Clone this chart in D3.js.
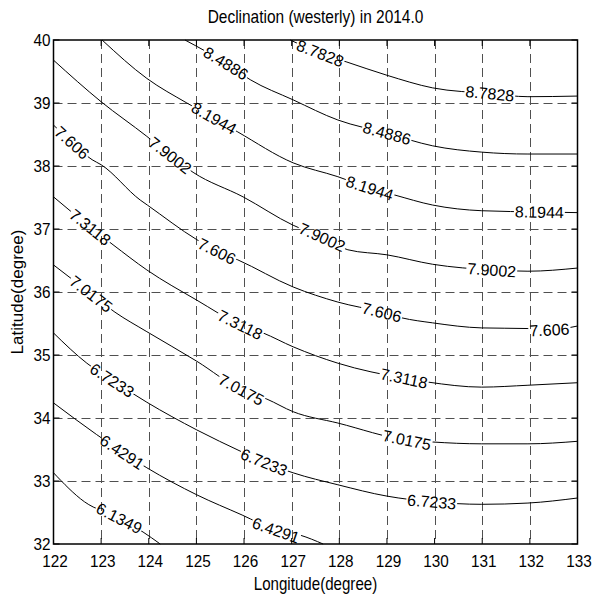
<!DOCTYPE html>
<html>
<head>
<meta charset="utf-8">
<script src="https://cdn.jsdelivr.net/npm/d3@7"></script>
<style>
  html, body { margin: 0; padding: 0; background: #fff; }
  text { font-family: "Liberation Sans", Arial, sans-serif; fill: #000; }
</style>
</head>
<body>
<div class="graph"></div>
<script>
// axis ticks
const lonTicks = [122, 123, 124, 125, 126, 127, 128, 129, 130, 131, 132, 133];
const latTicks = [32, 33, 34, 35, 36, 37, 38, 39, 40];

// contour levels (declination, degrees)
const levels = [6.1349, 6.4291, 6.7233, 7.0175, 7.3118, 7.606, 7.9002, 8.1944, 8.4886, 8.7828];
const levelLabels = ["6.1349", "6.4291", "6.7233", "7.0175", "7.3118", "7.606", "7.9002", "8.1944", "8.4886", "8.7828"];

// contour lines, [lon, lat]
const c61349 = [[122, 33.13], [122.65, 32.67], [123.38, 32.41], [123.88, 32.19], [124.24, 32.0]];
const c64291 = [[122, 34.24], [122.9, 33.74], [123.44, 33.46], [123.96, 33.21], [125.01, 32.78], [125.96, 32.46], [126.67, 32.22], [127.18, 32.14], [127.66, 32.0]];
const c67233 = [[122, 35.35], [122.7, 34.87], [123.23, 34.6], [123.96, 34.25], [125.01, 33.81], [125.96, 33.46], [126.42, 33.3], [127.03, 33.13], [127.97, 32.94], [129.0, 32.76], [129.94, 32.67], [130.99, 32.63], [131.96, 32.65], [133, 32.73]];
const c70175 = [[122, 36.43], [122.79, 35.97], [123.29, 35.68], [123.96, 35.37], [125.01, 34.9], [125.94, 34.45], [126.48, 34.3], [127.03, 34.1], [127.97, 33.92], [129.42, 33.65], [129.94, 33.62], [130.99, 33.59], [131.96, 33.59], [133, 33.63]];
const c73118 = [[122, 37.51], [122.77, 37.03], [123.25, 36.75], [123.96, 36.35], [125.01, 35.87], [125.92, 35.48], [126.4, 35.35], [127.03, 35.13], [127.97, 34.87], [129.36, 34.63], [129.86, 34.57], [130.99, 34.49], [131.96, 34.52], [133, 34.56]];
const c76060 = [[122, 38.65], [122.39, 38.37], [122.81, 38.1], [123.0, 38.02], [123.82, 37.46], [123.97, 37.38], [125.01, 36.83], [125.43, 36.65], [125.87, 36.51], [127.03, 36.08], [127.97, 35.84], [128.89, 35.68], [129.31, 35.59], [129.96, 35.51], [130.99, 35.43], [131.96, 35.42], [132.41, 35.4], [133, 35.46]];
const c79002 = [[122, 39.68], [123, 39.02], [123.96, 38.47], [124.45, 38.17], [124.93, 37.9], [125.98, 37.51], [127.03, 37.06], [127.64, 36.87], [128.18, 36.67], [129.0, 36.59], [129.96, 36.44], [131.2, 36.35], [131.96, 36.33], [133, 36.38]];
const c81944 = [[123.02, 40], [123.96, 39.39], [124.8, 39.0], [125.37, 38.76], [125.87, 38.54], [127.03, 38.05], [127.97, 37.83], [128.64, 37.65], [129.16, 37.54], [129.96, 37.38], [130.99, 37.29], [132.2, 37.27], [133, 37.26]];
const c84886 = [[124.76, 40], [125.62, 39.63], [126.13, 39.37], [127.03, 39.05], [127.97, 38.73], [129.0, 38.52], [129.96, 38.32], [130.99, 38.22], [131.96, 38.19], [133, 38.19]];
const c87828 = [[126.97, 40], [127.6, 39.79], [128.16, 39.65], [129.0, 39.44], [129.96, 39.24], [131.16, 39.15], [131.96, 39.1], [133, 39.11]];

// where the inline labels sit on each line
const l61349 = [[123.38, 32.41]];
const l64291 = [[123.44, 33.46], [126.67, 32.22]];
const l67233 = [[123.23, 34.6], [126.42, 33.3], [129.94, 32.67]];
const l70175 = [[122.79, 35.97], [125.94, 34.45], [129.42, 33.65]];
const l73118 = [[122.77, 37.03], [125.92, 35.48], [129.36, 34.63]];
const l76060 = [[122.39, 38.37], [125.43, 36.65], [128.89, 35.68], [132.41, 35.4]];
const l79002 = [[124.45, 38.17], [127.64, 36.87], [131.2, 36.35]];
const l81944 = [[125.37, 38.76], [128.64, 37.65], [132.2, 37.27]];
const l84886 = [[125.62, 39.63], [129.0, 38.52]];
const l87828 = [[127.6, 39.79], [131.16, 39.15]];

const lines = [c61349, c64291, c67233, c70175, c73118, c76060, c79002, c81944, c84886, c87828];
const labelSpots = [l61349, l64291, l67233, l70175, l73118, l76060, l79002, l81944, l84886, l87828];

const contours = levels.map((v, i) => ({
  level: v,
  name: levelLabels[i],
  points: lines[i],
  labels: labelSpots[i],
}));

const width = 595;
const height = 601;
const margin = { left: 53.5, right: 17.5, top: 40, bottom: 57 };

const x = d3.scaleLinear().domain([122, 133]).range([margin.left, width - margin.right]);
const y = d3.scaleLinear().domain([32, 40]).range([height - margin.bottom, margin.top]);

const svg = d3
  .select(".graph")
  .append("svg")
  .attr("width", width)
  .attr("height", height)
  .attr("viewBox", [0, 0, width, height]);

svg.append("rect").attr("width", width).attr("height", height).attr("fill", "#fff");

// dashed grid
const grid = svg.append("g").attr("stroke", "#505050").attr("stroke-width", 1).attr("stroke-dasharray", "9,5");
grid
  .selectAll()
  .data(lonTicks.slice(1, -1))
  .join("line")
  .attr("x1", (d) => Math.round(x(d)) + 0.5)
  .attr("x2", (d) => Math.round(x(d)) + 0.5)
  .attr("y1", y(40))
  .attr("y2", y(32));
grid
  .selectAll()
  .data(latTicks.slice(1, -1))
  .join("line")
  .attr("y1", (d) => Math.round(y(d)) + 0.5)
  .attr("y2", (d) => Math.round(y(d)) + 0.5)
  .attr("x1", x(122))
  .attr("x2", x(133));

// mask that cuts the contour lines where labels go
const mask = svg
  .append("defs")
  .append("mask")
  .attr("id", "labelGaps")
  .attr("maskUnits", "userSpaceOnUse")
  .attr("x", 0)
  .attr("y", 0)
  .attr("width", width)
  .attr("height", height);
mask.append("rect").attr("width", width).attr("height", height).attr("fill", "#fff");

const lineGen = d3
  .line()
  .x((d) => x(d[0]))
  .y((d) => y(d[1]))
  .curve(d3.curveMonotoneX);

svg
  .append("g")
  .attr("mask", "url(#labelGaps)")
  .selectAll()
  .data(contours)
  .join("path")
  .attr("fill", "none")
  .attr("stroke", "#000")
  .attr("stroke-width", 1)
  .attr("d", (d) => lineGen(d.points));

// label placement: angle from the neighbours of the nearest vertex
const labelData = contours.flatMap((c) =>
  c.labels.map((p) => {
    const px = c.points.map((q) => [x(q[0]), y(q[1])]);
    const lx = x(p[0]);
    const ly = y(p[1]);
    const i = d3.minIndex(px, (q) => (q[0] - lx) ** 2 + (q[1] - ly) ** 2);
    const a = px[Math.max(i - 1, 0)];
    const b = px[Math.min(i + 1, px.length - 1)];
    const angle = (Math.atan2(b[1] - a[1], b[0] - a[0]) * 180) / Math.PI;
    return { name: c.name, x: lx, y: ly, angle };
  }),
);

const labels = svg
  .append("g")
  .attr("font-size", 16)
  .selectAll()
  .data(labelData)
  .join("text")
  .attr("transform", (d) => `translate(${d.x},${d.y}) rotate(${d.angle})`)
  .attr("text-anchor", "middle")
  .attr("dy", "0.36em")
  .text((d) => d.name);

labels.each(function (d) {
  d.len = this.getComputedTextLength();
});

mask
  .selectAll("g.gap")
  .data(labelData)
  .join("rect")
  .attr("transform", (d) => `translate(${d.x},${d.y}) rotate(${d.angle})`)
  .attr("x", (d) => -d.len / 2 - 1)
  .attr("y", -7)
  .attr("width", (d) => d.len + 2)
  .attr("height", 14)
  .attr("fill", "#000");

// axes box and inward ticks
const axes = svg.append("g").attr("stroke", "#000").attr("fill", "none");
axes
  .append("rect")
  .attr("x", x(122))
  .attr("y", y(40))
  .attr("width", x(133) - x(122))
  .attr("height", y(32) - y(40))
  .attr("stroke-width", 1.5);

const tickLen = 6;
axes
  .selectAll()
  .data(lonTicks)
  .join("path")
  .attr("d", (d) => `M${x(d)},${y(32)}v${-tickLen}M${x(d)},${y(40)}v${tickLen}`);
axes
  .selectAll()
  .data(latTicks)
  .join("path")
  .attr("d", (d) => `M${x(122)},${y(d)}h${tickLen}M${x(133)},${y(d)}h${-tickLen}`);

// tick labels
svg
  .append("g")
  .attr("font-size", 17)
  .selectAll()
  .data(lonTicks)
  .join("text")
  .attr("transform", (d) => `translate(${x(d) + 1.5},${y(32) + 23}) scale(0.9,1)`)
  .attr("text-anchor", "middle")
  .text((d) => d);

svg
  .append("g")
  .attr("font-size", 17)
  .selectAll()
  .data(latTicks)
  .join("text")
  .attr("transform", (d) => `translate(${x(122) - 3},${y(d) + 6}) scale(0.9,1)`)
  .attr("text-anchor", "end")
  .text((d) => d);

// title and axis titles
svg
  .append("text")
  .attr("transform", `translate(${(x(122) + x(133)) / 2},22.5) scale(0.86,1)`)
  .attr("text-anchor", "middle")
  .attr("font-size", 18)
  .text("Declination (westerly) in 2014.0");

svg
  .append("text")
  .attr("transform", `translate(${(x(122) + x(133)) / 2},590) scale(0.84,1)`)
  .attr("text-anchor", "middle")
  .attr("font-size", 18)
  .text("Longitude(degree)");

svg
  .append("text")
  .attr("transform", `translate(23,${(y(32) + y(40)) / 2}) rotate(-90)`)
  .attr("text-anchor", "middle")
  .attr("font-size", 17)
  .text("Latitude(degree)");
</script>
</body>
</html>
